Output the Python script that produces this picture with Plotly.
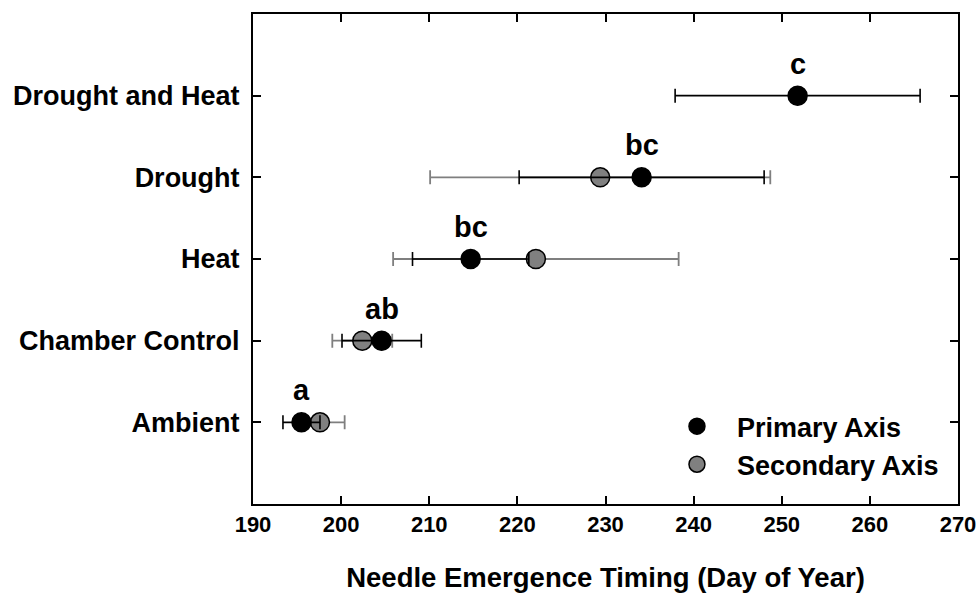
import plotly.graph_objects as go

# Treatments, bottom to top
categories = ["Ambient", "Chamber Control", "Heat", "Drought", "Drought and Heat"]

# Mean needle emergence day and error (primary axis)
primary = [195.5, 204.6, 214.7, 234.1, 251.8]
primary_err = [2.1, 4.5, 6.6, 13.9, 13.9]

# Mean needle emergence day and error (secondary axis)
secondary = [197.6, 202.4, 222.1, 229.4, None]
secondary_err = [2.8, 3.4, 16.2, 19.3, None]

# Significance letters for the primary axis
letters = ["a", "ab", "bc", "bc", "c"]

x_ticks = [190, 200, 210, 220, 230, 240, 250, 260, 270]

FONT = "Liberation Sans, Arial, sans-serif"

fig = go.Figure()

fig.add_trace(go.Scatter(
    x=secondary, y=categories, mode="markers", name="Secondary Axis",
    marker=dict(size=19, color="#808080", line=dict(color="black", width=1.5)),
    error_x=dict(type="data", array=secondary_err, color="#7f7f7f",
                 thickness=1.8, width=7),
))

fig.add_trace(go.Scatter(
    x=primary, y=categories, mode="markers", name="Primary Axis",
    marker=dict(size=19, color="black", line=dict(color="black", width=1.5)),
    error_x=dict(type="data", array=primary_err, color="black",
                 thickness=1.6, width=7),
))

for xv, cat, lab in zip(primary, categories, letters):
    fig.add_annotation(x=xv, y=cat, text=lab, showarrow=False, yshift=32,
                       font=dict(family=FONT, size=29, color="black", weight="bold"))

fig.update_layout(
    width=980, height=593,
    margin=dict(l=253, r=22, t=14, b=89),
    paper_bgcolor="white", plot_bgcolor="white",
    showlegend=True,
    legend=dict(x=0.573, y=0.208, xanchor="left", yanchor="top",
                traceorder="reversed", bgcolor="rgba(0,0,0,0)",
                font=dict(family=FONT, size=27, color="black", weight="bold"),
                itemsizing="trace", itemwidth=70),
    xaxis=dict(
        range=[190, 270], tickvals=x_ticks, ticks="inside", ticklen=8,
        tickwidth=1.5, tickcolor="black", showline=True, linecolor="black",
        linewidth=2, mirror="ticks", showgrid=False, zeroline=False,
        automargin=False, ticklabeloverflow="allow",
        tickfont=dict(family=FONT, size=22, color="black", weight="bold"),
        title=dict(text="Needle Emergence Timing (Day of Year)", standoff=32,
                   font=dict(family=FONT, size=27.5, color="black", weight="bold")),
    ),
    yaxis=dict(
        type="category", categoryorder="array", categoryarray=categories,
        range=[-1, 5], ticks="inside", ticklen=8, tickwidth=1.5,
        tickcolor="black", showline=True, linecolor="black", linewidth=2,
        mirror="ticks", showgrid=False, zeroline=False, ticklabelstandoff=6,
        automargin=False,
        tickfont=dict(family=FONT, size=27, color="black", weight="bold"),
    ),
)

fig.write_html("out.html")
